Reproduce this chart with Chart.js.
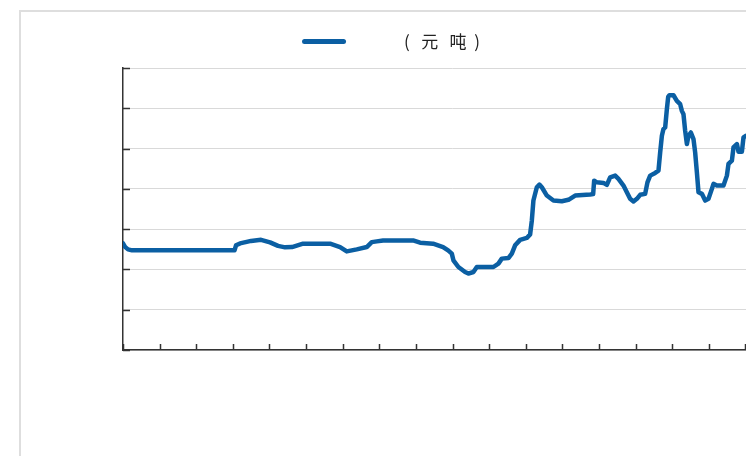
<!DOCTYPE html>
<html>
<head>
<meta charset="utf-8">
<script src="https://cdn.jsdelivr.net/npm/chart.js@4/dist/chart.umd.min.js"></script>
<style>
  html, body { margin: 0; padding: 0; background: #fff; overflow: hidden; }
  #frame { position: absolute; left: 19px; top: 10px; width: 1000px; height: 1000px;
           border: 2px solid #dedede; box-sizing: border-box; }
  #wrap { position: absolute; left: 0; top: 0; width: 808px; height: 456px; }
</style>
</head>
<body>
<div id="frame"></div>
<div id="wrap"><canvas id="c" width="808" height="456"></canvas></div>
<script>
// Time position of each observation (one unit per axis tick interval)
const xs = [
  0.00, 0.055, 0.137, 0.246, 3.046, 3.087, 3.197, 3.497, 3.770, 4.016,
  4.235, 4.426, 4.617, 4.918, 5.656, 5.929, 6.112, 6.385, 6.658, 6.795,
  6.932, 7.104, 7.923, 8.115, 8.470, 8.743, 8.880, 8.981, 9.025, 9.161,
  9.344, 9.434, 9.571, 9.664, 10.118, 10.254, 10.347, 10.527, 10.620, 10.710,
  10.847, 11.030, 11.120, 11.167, 11.210, 11.303, 11.374, 11.440, 11.577, 11.757,
  11.986, 12.167, 12.350, 12.760, 12.842, 12.869, 12.943, 13.123, 13.216, 13.306,
  13.443, 13.533, 13.670, 13.762, 13.852, 13.943, 14.036, 14.126, 14.262, 14.325,
  14.399, 14.536, 14.626, 14.672, 14.719, 14.762, 14.809, 14.855, 14.891, 14.926,
  15.036, 15.128, 15.219, 15.265, 15.309, 15.355, 15.402, 15.445, 15.511, 15.582,
  15.628, 15.675, 15.719, 15.812, 15.902, 15.992, 16.085, 16.129, 16.221, 16.402,
  16.495, 16.538, 16.631, 16.675, 16.768, 16.812, 16.904, 16.948, 17.022, 17.130
];

// Price, 元/吨
const prices = [
  1323, 1280, 1249, 1237, 1237, 1299, 1323, 1354, 1367, 1336,
  1292, 1274, 1278, 1320, 1320, 1278, 1224, 1249, 1278, 1339,
  1348, 1360, 1360, 1332, 1320, 1278, 1237, 1196, 1113, 1030,
  968, 949, 968, 1030, 1030, 1072, 1134, 1141, 1196, 1299,
  1367, 1391, 1435, 1608, 1855, 2020, 2053, 2020, 1917, 1855,
  1846, 1864, 1917, 1929, 1935, 2102, 2081, 2074, 2049, 2143,
  2164, 2123, 2041, 1958, 1876, 1843, 1876, 1926, 1938, 2081,
  2164, 2198, 2226, 2452, 2659, 2742, 2762, 2989, 3141, 3162,
  3162, 3092, 3051, 2968, 2927, 2721, 2556, 2659, 2700, 2618,
  2452, 2205, 1958, 1938, 1855, 1876, 2000, 2062, 2041, 2041,
  2164, 2309, 2350, 2514, 2556, 2461, 2461, 2638, 2659, 2659
];

const seriesLabel = '             (   元   吨  )';

const lineColor = '#0b5fa3';
const axisColor = '#333333';
const gridColor = '#d9d9d9';

// Short tick marks drawn on the inner side of both axes
const innerTicks = {
  id: 'innerTicks',
  afterDraw(chart) {
    const { ctx, chartArea: { left, bottom }, scales: { x, y } } = chart;
    ctx.save();
    ctx.strokeStyle = axisColor;
    ctx.lineWidth = 1.5;
    ctx.beginPath();
    y.ticks.forEach(t => {
      const py = Math.round(y.getPixelForValue(t.value)) + 0.5;
      ctx.moveTo(left, py);
      ctx.lineTo(left + 7, py);
    });
    x.ticks.forEach(t => {
      const px = Math.round(x.getPixelForValue(t.value)) + 0.5;
      ctx.moveTo(px, bottom);
      ctx.lineTo(px, bottom - 6);
    });
    ctx.stroke();
    ctx.restore();
  }
};

// Extra space between the legend row and the plot area
const legendGap = {
  id: 'legendGap',
  beforeLayout(chart) {
    const lg = chart.legend;
    if (lg && !lg._gapPatched) {
      const fit = lg.fit;
      lg.fit = function () { fit.call(this); this.height += 8; };
      lg._gapPatched = true;
    }
  }
};

new Chart(document.getElementById('c'), {
  type: 'line',
  data: {
    datasets: [{
      label: seriesLabel,
      data: xs.map((x, i) => ({ x, y: prices[i] })),
      borderColor: lineColor,
      backgroundColor: lineColor,
      borderWidth: 4.5,
      pointRadius: 0,
      tension: 0,
      borderJoinStyle: 'round',
      borderCapStyle: 'round'
    }]
  },
  options: {
    responsive: false,
    animation: false,
    layout: { padding: { top: 15, right: 26, left: 0, bottom: 0 } },
    plugins: {
      tooltip: { enabled: false },
      legend: {
        display: true,
        position: 'top',
        labels: {
          boxWidth: 44,
          boxHeight: 5,
          padding: 18,
          color: '#222',
          font: { family: '"Noto Sans CJK SC", sans-serif', size: 17 },
          generateLabels(chart) {
            const ds = chart.data.datasets[0];
            return [{
              text: ds.label,
              fillStyle: lineColor,
              strokeStyle: lineColor,
              lineWidth: 0,
              borderRadius: 2.5,
              datasetIndex: 0,
              fontColor: '#222'
            }];
          },
          useBorderRadius: true,
          borderRadius: 2.5
        }
      }
    },
    scales: {
      x: {
        type: 'linear',
        min: 0,
        max: 18,
        ticks: { display: false, stepSize: 1 },
        grid: { display: false, drawTicks: false },
        border: { display: true, color: axisColor, width: 1.5 },
        afterFit(scale) { scale.height = 106; }
      },
      y: {
        min: 0,
        max: 3500,
        ticks: { display: false, stepSize: 500 },
        grid: { color: gridColor, lineWidth: 1, drawTicks: false },
        border: { display: true, color: axisColor, width: 1.5 },
        afterFit(scale) { scale.width = 123; }
      }
    }
  },
  plugins: [innerTicks, legendGap]
});
</script>
</body>
</html>
